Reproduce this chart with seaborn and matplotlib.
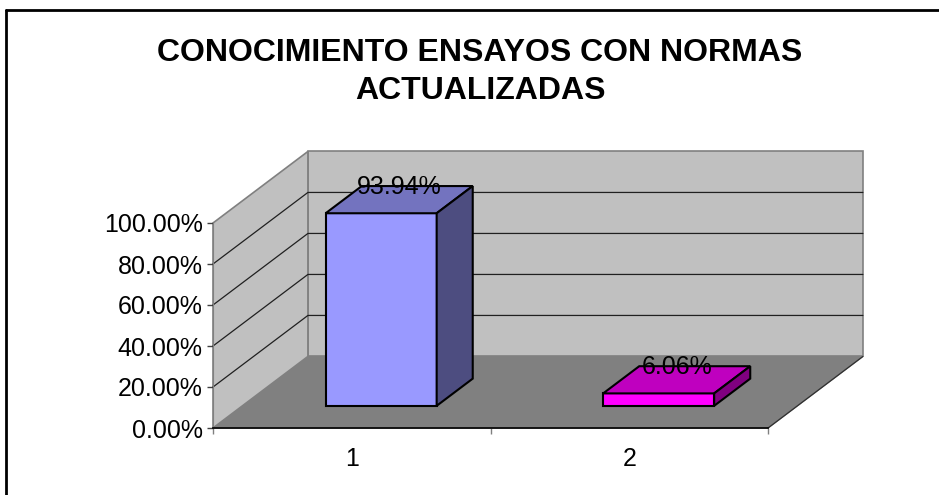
import numpy as np
import pandas as pd
import seaborn as sns
import matplotlib.pyplot as plt
from matplotlib.patches import Polygon
from matplotlib.ticker import FuncFormatter

# data
categories = ["1", "2"]
values = [0.9394, 0.0606]
value_labels = ["93.94%", "6.06%"]
y_ticks = [0.0, 0.2, 0.4, 0.6, 0.8, 1.0]

front_colors = ["#9999FF", "#FF00FF"]
top_colors = ["#7373BF", "#BF00BF"]
side_colors = ["#4D4D80", "#800080"]

title = "CONOCIMIENTO ENSAYOS CON NORMAS"
title2 = "ACTUALIZADAS"

# fake 3d: full depth of the floor in data units, bar sits between d0 and d1
DX, DY = 0.342, 0.349
D0, D1 = 0.31, 0.69


def proj(x, y, d):
    return (x + d * DX, y + d * DY)


sns.set_style("white")
plt.rcParams["font.family"] = ["Liberation Sans", "DejaVu Sans"]
plt.rcParams["text.color"] = "black"

fig = plt.figure(figsize=(9.39, 4.95), dpi=100)
W, H = 939, 495
ax = fig.add_axes([213 / W, (H - 428) / H, 555 / W, 205 / H])
ax.set_facecolor("none")

df = pd.DataFrame({"cat": categories, "val": values})
sns.barplot(data=df, x="cat", y="val", hue="cat", palette=front_colors,
            saturation=1, width=0.4, edgecolor="black", linewidth=1.5,
            legend=False, ax=ax, zorder=3)

# walls and floor
x_lo, x_hi = -0.5, 1.5
floor = [proj(x_lo, 0, 0), proj(x_hi, 0, 0), proj(x_hi, 0, 1), proj(x_lo, 0, 1)]
back = [proj(x_lo, 0, 1), proj(x_hi, 0, 1), proj(x_hi, 1, 1), proj(x_lo, 1, 1)]
left = [proj(x_lo, 0, 0), proj(x_lo, 0, 1), proj(x_lo, 1, 1), proj(x_lo, 1, 0)]
ax.add_patch(Polygon(floor, closed=True, facecolor="#808080", edgecolor="#808080",
                     lw=1, clip_on=False, zorder=0))
ax.add_patch(Polygon(back, closed=True, facecolor="#C0C0C0", edgecolor="#808080",
                     lw=1.2, clip_on=False, zorder=0))
ax.add_patch(Polygon(left, closed=True, facecolor="#C0C0C0", edgecolor="#808080",
                     lw=1.2, clip_on=False, zorder=0))
# right edge of the floor
fx, fy = zip(proj(x_hi, 0, 0), proj(x_hi, 0, 1))
ax.plot(fx, fy, color="#303030", lw=0.9, clip_on=False, zorder=1)

# gridlines run along the left wall and across the back wall
for v in y_ticks[1:-1]:
    gx, gy = zip(proj(x_lo, v, 0), proj(x_lo, v, 1), proj(x_hi, v, 1))
    ax.plot(gx, gy, color="#202020", lw=0.9, clip_on=False, zorder=1)

# move the front faces back and add tops and sides
bars = [p for p in ax.patches if p.get_zorder() == 3]
for i, p in enumerate(bars):
    x0 = p.get_x()
    x1 = x0 + p.get_width()
    h = p.get_height()
    p.set_x(x0 + D0 * DX)
    p.set_y(D0 * DY)
    p.set_clip_on(False)
    top = [proj(x0, h, D0), proj(x1, h, D0), proj(x1, h, D1), proj(x0, h, D1)]
    side = [proj(x1, 0, D0), proj(x1, 0, D1), proj(x1, h, D1), proj(x1, h, D0)]
    ax.add_patch(Polygon(top, closed=True, facecolor=top_colors[i], edgecolor="black",
                         lw=1.5, clip_on=False, zorder=3))
    ax.add_patch(Polygon(side, closed=True, facecolor=side_colors[i], edgecolor="black",
                         lw=1.5, clip_on=False, zorder=3))
    lx, ly = proj((x0 + x1) / 2, h, (D0 + D1) / 2)
    ax.annotate(value_labels[i], (lx, ly), xytext=(0, 9), textcoords="offset points",
                ha="center", va="center", fontsize=18, color="black",
                annotation_clip=False, zorder=5)

ax.set_xlim(x_lo, x_hi)
ax.set_ylim(0, 1)
ax.set_yticks(y_ticks)
ax.yaxis.set_major_formatter(FuncFormatter(lambda v, _: f"{v * 100:.2f}%"))
ax.set_xticks([0, 1])
ax.set_xticklabels(categories)
ax.set_xticks([-0.5, 0.5, 1.5], minor=True)
ax.tick_params(axis="x", which="major", length=0, pad=14, labelsize=18,
               labelcolor="black")
ax.tick_params(axis="x", which="minor", length=4.5, width=1, color="#808080",
               direction="out", bottom=True)
ax.tick_params(axis="y", length=4.5, width=1, color="#404040", direction="out",
               pad=3, labelsize=18, left=True, labelcolor="black")
ax.set_xlabel("")
ax.set_ylabel("")
for s in ["top", "right"]:
    ax.spines[s].set_visible(False)
ax.spines["left"].set_color("#808080")
ax.spines["bottom"].set_color("black")
ax.spines["bottom"].set_linewidth(1.2)
for s in ["left", "bottom"]:
    ax.spines[s].set_zorder(2)

fig.text(480 / W, 1 - 53 / H, title, ha="center", va="center",
         fontsize=23, fontweight="bold", color="black")
fig.text(480 / W, 1 - 91 / H, title2, ha="center", va="center",
         fontsize=23, fontweight="bold", color="black")

# chart border (cut off at the right and bottom)
fig.add_artist(plt.Line2D([6 / W, 6 / W], [0, 1 - 10 / H], color="black", lw=2))
fig.add_artist(plt.Line2D([6 / W, 1], [1 - 10 / H, 1 - 10 / H], color="black", lw=2))

fig.savefig("out.png", dpi=100)
